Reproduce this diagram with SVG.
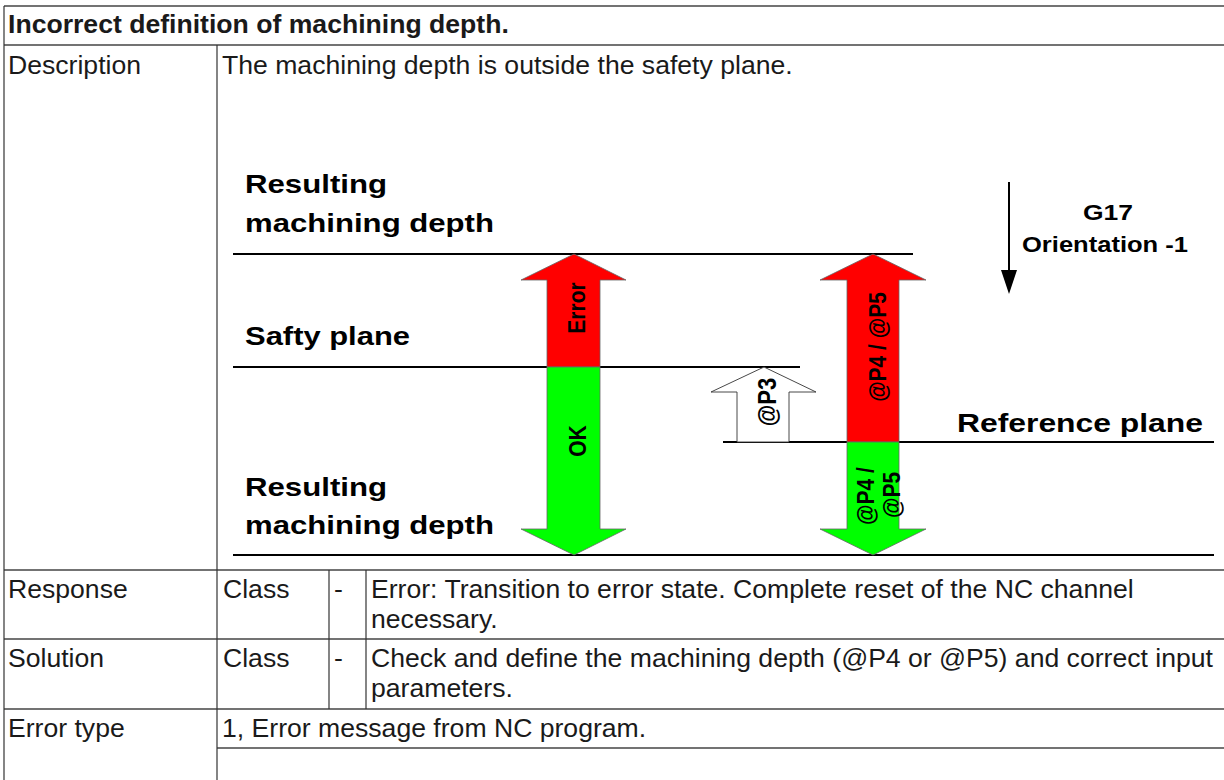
<svg xmlns="http://www.w3.org/2000/svg" width="1224" height="780" viewBox="0 0 1224 780">
<style>
.bg{fill:#ffffff}
.hl{stroke:#444444;stroke-width:1.6;fill:none}
.vl{stroke:#333333;stroke-width:1.2;fill:none}
.cell{font-family:"Liberation Sans",Arial,sans-serif;font-size:26.6px;fill:#1a1a1a}
.title{font-family:"Liberation Sans",Arial,sans-serif;font-size:26.6px;font-weight:bold;fill:#1a1a1a}
.lbl{font-family:"Liberation Sans",Arial,sans-serif;font-size:26px;font-weight:bold;fill:#000}
.g17{font-family:"Liberation Sans",Arial,sans-serif;font-size:22px;font-weight:bold;fill:#000}
.rot{font-family:"Liberation Sans",Arial,sans-serif;font-size:21px;font-weight:bold;fill:#000;text-anchor:middle}
.plane{stroke:#000;stroke-width:2;fill:none}
.red{fill:#ff0000;stroke:#666;stroke-width:0.8}
.green{fill:#00ff00;stroke:#666;stroke-width:0.8}
.white{fill:#ffffff;stroke:#333;stroke-width:0.9}
</style>
<rect class="bg" x="0" y="0" width="1224" height="780"/>

<g id="table-grid">
  <line class="hl" x1="4" y1="6" x2="1224" y2="6"/>
  <line class="hl" x1="4" y1="45" x2="1224" y2="45"/>
  <line class="hl" x1="4" y1="570" x2="1224" y2="570"/>
  <line class="hl" x1="4" y1="639" x2="1224" y2="639"/>
  <line class="hl" x1="4" y1="709" x2="1224" y2="709"/>
  <line class="hl" x1="217" y1="748" x2="1224" y2="748"/>
  <line class="vl" x1="4" y1="6" x2="4" y2="780"/>
  <line class="vl" x1="217" y1="45" x2="217" y2="780"/>
  <line class="vl" x1="329" y1="570" x2="329" y2="709"/>
  <line class="vl" x1="366" y1="570" x2="366" y2="709"/>
</g>

<g id="title-row">
  <text class="title" x="8" y="33">Incorrect definition of machining depth.</text>
</g>
<g id="description-row">
  <text class="cell" x="8" y="74">Description</text>
  <text class="cell" x="222" y="74">The machining depth is outside the safety plane.</text>
</g>
<g id="response-row">
  <text class="cell" x="8" y="598">Response</text>
  <text class="cell" x="223" y="598">Class</text>
  <text class="cell" x="334" y="598">-</text>
  <text class="cell" x="371" y="598">Error: Transition to error state. Complete reset of the NC channel</text>
  <text class="cell" x="371" y="628">necessary.</text>
</g>
<g id="solution-row">
  <text class="cell" x="8" y="667">Solution</text>
  <text class="cell" x="223" y="667">Class</text>
  <text class="cell" x="334" y="667">-</text>
  <text class="cell" x="371" y="667">Check and define the machining depth (@P4 or @P5) and correct input</text>
  <text class="cell" x="371" y="697">parameters.</text>
</g>
<g id="errortype-row">
  <text class="cell" x="8" y="737">Error type</text>
  <text class="cell" x="222" y="737">1, Error message from NC program.</text>
</g>

<g id="planes">
  <line class="plane" x1="233" y1="254" x2="913" y2="254"/>
  <line class="plane" x1="233" y1="367" x2="800" y2="367"/>
  <line class="plane" x1="723" y1="442" x2="1214" y2="442"/>
  <line class="plane" x1="233" y1="555" x2="1214" y2="555"/>
</g>

<g id="plane-labels">
  <text class="lbl" x="245" y="193" textLength="142" lengthAdjust="spacingAndGlyphs">Resulting</text>
  <text class="lbl" x="245" y="232" textLength="249" lengthAdjust="spacingAndGlyphs">machining depth</text>
  <text class="lbl" x="245" y="345" textLength="165" lengthAdjust="spacingAndGlyphs">Safty plane</text>
  <text class="lbl" x="245" y="496" textLength="142" lengthAdjust="spacingAndGlyphs">Resulting</text>
  <text class="lbl" x="245" y="534" textLength="249" lengthAdjust="spacingAndGlyphs">machining depth</text>
  <text class="lbl" x="957" y="432" textLength="246" lengthAdjust="spacingAndGlyphs">Reference plane</text>
</g>

<g id="g17-orientation">
  <line x1="1009" y1="182" x2="1009" y2="272" stroke="#000" stroke-width="2"/>
  <polygon points="1001,270 1017,270 1009,294" fill="#000"/>
  <text class="g17" x="1083" y="220" textLength="50" lengthAdjust="spacingAndGlyphs">G17</text>
  <text class="g17" x="1022" y="252" textLength="166" lengthAdjust="spacingAndGlyphs">Orientation -1</text>
</g>

<g id="arrow-error-ok">
  <polygon class="red" points="574,254 626,280 600,280 600,367 547,367 547,280 521,280"/>
  <polygon class="green" points="547,367 600,367 600,529 626,529 574,555 521,529 547,529"/>
  <text class="rot" transform="translate(576,308) scale(1.15,1) rotate(-90)" dy="7.5">Error</text>
  <text class="rot" transform="translate(577,441) scale(1.15,1) rotate(-90)" dy="7.5">OK</text>
</g>

<g id="arrow-p3">
  <polygon class="white" points="737,442 737,392 711,392 764,367 816,392 789,392 789,442"/>
  <text class="rot" transform="translate(767,402) scale(1.15,1) rotate(-90)" dy="7.5" style="font-size:22px">@P3</text>
</g>

<g id="arrow-p4-p5">
  <polygon class="red" points="873,254 926,280 899,280 899,442 847,442 847,280 820,280"/>
  <polygon class="green" points="847,442 899,442 899,529 926,529 873,555 820,529 847,529"/>
  <text class="rot" transform="translate(877,347) scale(1.15,1) rotate(-90)" dy="7.5">@P4 / @P5</text>
  <text class="rot" transform="translate(865,496) scale(1.15,1) rotate(-90)" dy="7.5">@P4 /</text>
  <text class="rot" transform="translate(891,495) scale(1.15,1) rotate(-90)" dy="7.5">@P5</text>
</g>
</svg>
